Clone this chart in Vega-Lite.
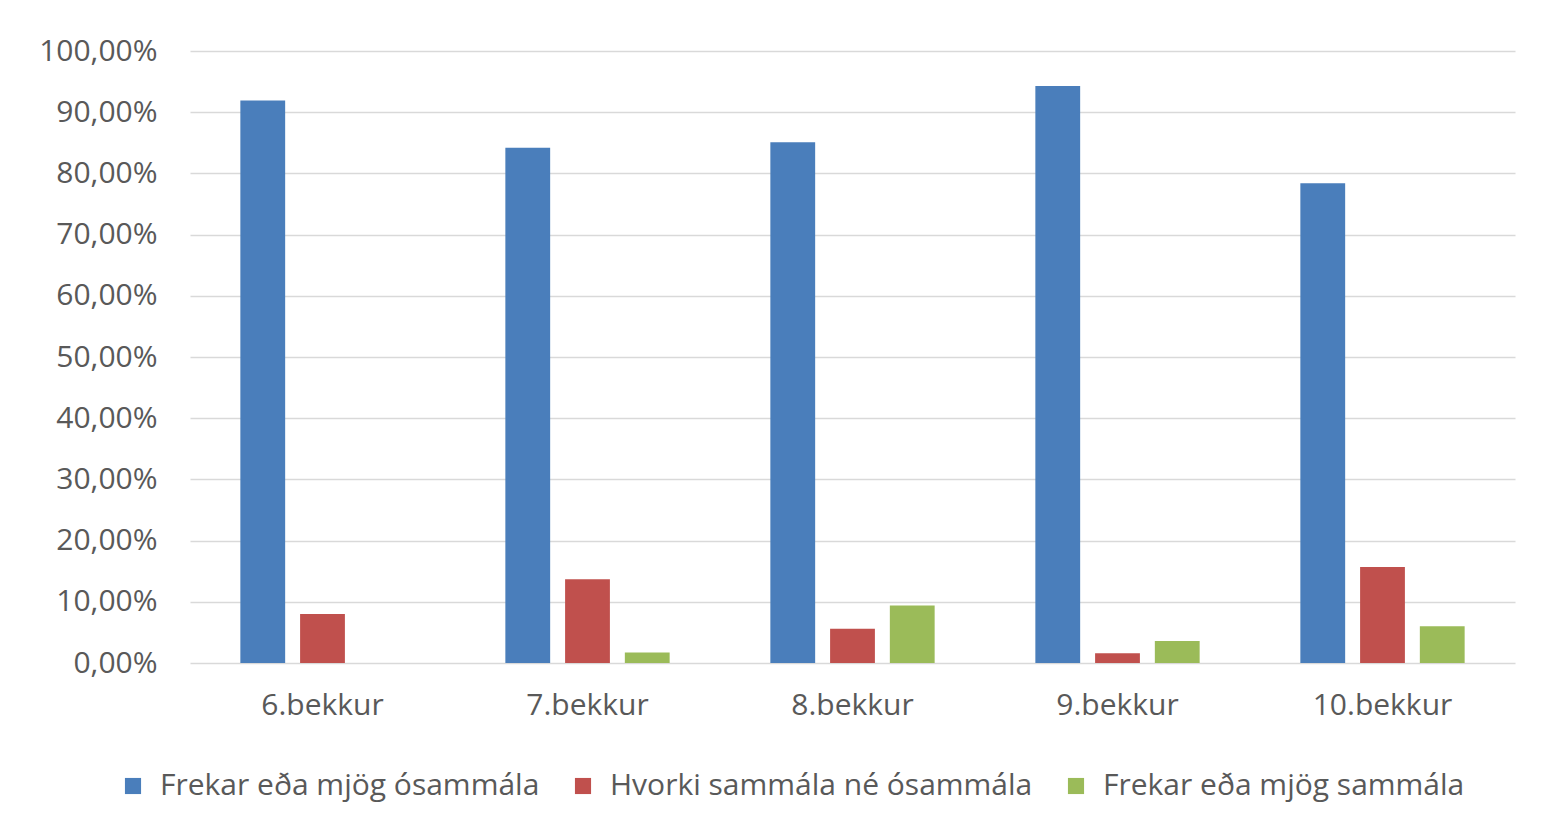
{
  "$schema": "https://vega.github.io/schema/vega-lite/v6.json",
  "width": 1325,
  "height": 612,
  "autosize": {"type": "none"},
  "padding": {"left": 190, "top": 51, "right": 31, "bottom": 176},
  "background": "white",
  "config": {
    "locale": {"number": {"decimal": ",", "thousands": ".", "grouping": [3], "currency": ["", " kr."]}},
    "view": {"stroke": null},
    "font": "Open Sans"
  },
  "data": {
    "values": [
      {"bekkur": "6.bekkur", "flokkur": "Frekar eða mjög ósammála", "hlutfall": 0.919},
      {"bekkur": "6.bekkur", "flokkur": "Hvorki sammála né ósammála", "hlutfall": 0.08},
      {"bekkur": "6.bekkur", "flokkur": "Frekar eða mjög sammála", "hlutfall": 0.0},
      {"bekkur": "7.bekkur", "flokkur": "Frekar eða mjög ósammála", "hlutfall": 0.842},
      {"bekkur": "7.bekkur", "flokkur": "Hvorki sammála né ósammála", "hlutfall": 0.137},
      {"bekkur": "7.bekkur", "flokkur": "Frekar eða mjög sammála", "hlutfall": 0.017},
      {"bekkur": "8.bekkur", "flokkur": "Frekar eða mjög ósammála", "hlutfall": 0.851},
      {"bekkur": "8.bekkur", "flokkur": "Hvorki sammála né ósammála", "hlutfall": 0.056},
      {"bekkur": "8.bekkur", "flokkur": "Frekar eða mjög sammála", "hlutfall": 0.094},
      {"bekkur": "9.bekkur", "flokkur": "Frekar eða mjög ósammála", "hlutfall": 0.943},
      {"bekkur": "9.bekkur", "flokkur": "Hvorki sammála né ósammála", "hlutfall": 0.016},
      {"bekkur": "9.bekkur", "flokkur": "Frekar eða mjög sammála", "hlutfall": 0.036},
      {"bekkur": "10.bekkur", "flokkur": "Frekar eða mjög ósammála", "hlutfall": 0.784},
      {"bekkur": "10.bekkur", "flokkur": "Hvorki sammála né ósammála", "hlutfall": 0.157},
      {"bekkur": "10.bekkur", "flokkur": "Frekar eða mjög sammála", "hlutfall": 0.06}
    ]
  },
  "mark": {"type": "bar"},
  "encoding": {
    "x": {
      "field": "bekkur",
      "type": "nominal",
      "sort": ["6.bekkur", "7.bekkur", "8.bekkur", "9.bekkur", "10.bekkur"],
      "scale": {"paddingInner": 0.38, "paddingOuter": 0.19},
      "axis": {
        "title": null,
        "labelAngle": 0,
        "labelFontSize": 30,
        "labelColor": "#595959",
        "labelPadding": 27,
        "ticks": false,
        "domain": false,
        "grid": false
      }
    },
    "xOffset": {
      "field": "flokkur",
      "type": "nominal",
      "sort": ["Frekar eða mjög ósammála", "Hvorki sammála né ósammála", "Frekar eða mjög sammála"],
      "scale": {"paddingInner": 0.25, "paddingOuter": 0}
    },
    "y": {
      "field": "hlutfall",
      "type": "quantitative",
      "scale": {"domain": [0, 1], "nice": false},
      "axis": {
        "title": null,
        "format": ".2%",
        "values": [0, 0.1, 0.2, 0.3, 0.4, 0.5, 0.6, 0.7, 0.8, 0.9, 1.0],
        "labelFontSize": 30,
        "labelColor": "#595959",
        "labelPadding": 33,
        "ticks": false,
        "domain": false,
        "gridColor": "#d9d9d9",
        "gridWidth": 1.5
      }
    },
    "color": {
      "field": "flokkur",
      "type": "nominal",
      "sort": ["Frekar eða mjög ósammála", "Hvorki sammála né ósammála", "Frekar eða mjög sammála"],
      "scale": {
        "domain": ["Frekar eða mjög ósammála", "Hvorki sammála né ósammála", "Frekar eða mjög sammála"],
        "range": ["#4a7ebb", "#c0504d", "#9bbb59"]
      },
      "legend": {
        "title": null,
        "orient": "none",
        "direction": "horizontal",
        "legendX": -72,
        "legendY": 720,
        "symbolType": "square",
        "symbolSize": 260,
        "symbolStrokeWidth": 0,
        "labelFontSize": 30,
        "labelColor": "#595959",
        "labelOffset": 12,
        "columnPadding": 28,
        "labelLimit": 600
      }
    }
  }
}
